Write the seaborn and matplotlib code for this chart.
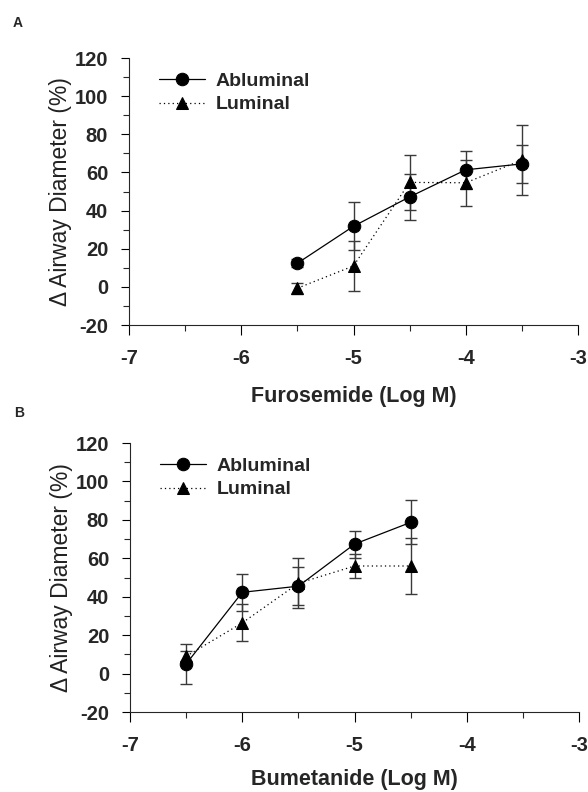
import numpy as np
import pandas as pd
import seaborn as sns
import matplotlib.pyplot as plt
from matplotlib.ticker import MultipleLocator

# panel A - furosemide
furo_x = [-5.5, -5.0, -4.5, -4.0, -3.5]
furo_ablum = [12.4, 31.8, 47.2, 61.4, 64.5]
furo_ablum_err = [2.0, 12.6, 12.0, 10.0, 10.0]
furo_lum = [-0.7, 11.0, 54.8, 54.6, 66.5]
furo_lum_err = [3.0, 13.0, 14.5, 12.0, 18.5]

# panel B - bumetanide
bume_x = [-6.5, -6.0, -5.5, -5.0, -4.5]
bume_ablum = [5.0, 42.3, 45.5, 67.4, 78.7]
bume_ablum_err = [10.5, 9.6, 10.0, 7.0, 11.5]
bume_lum = [9.0, 26.4, 47.0, 56.0, 56.0]
bume_lum_err = [3.0, 9.6, 13.0, 6.0, 14.8]

sns.set_style("ticks")
plt.rcParams['font.family'] = ['Liberation Sans', 'DejaVu Sans']
plt.rcParams['axes.unicode_minus'] = False

fig = plt.figure(figsize=(5.88, 7.92), dpi=100)
axA = fig.add_axes([0.2194, 0.5896, 0.7636, 0.3371])
axB = fig.add_axes([0.2211, 0.1010, 0.7636, 0.3396])


def draw_panel(ax, x, ab, ab_err, lu, lu_err, xlabel, xpad):
    df = pd.DataFrame({
        'logM': x + x,
        'change': ab + lu,
        'side': ['Abluminal'] * len(x) + ['Luminal'] * len(x),
    })
    ax.errorbar(x, ab, yerr=ab_err, fmt='none', ecolor='#3a3a3a',
                elinewidth=1.0, capsize=4, capthick=1.0, zorder=1)
    ax.errorbar(x, lu, yerr=lu_err, fmt='none', ecolor='#3a3a3a',
                elinewidth=1.0, capsize=4, capthick=1.0, zorder=1)
    sns.lineplot(data=df, x='logM', y='change', style='side',
                 markers={'Abluminal': 'o', 'Luminal': '^'},
                 dashes={'Abluminal': '', 'Luminal': (1, 2.5)},
                 color='black', markersize=9, markeredgecolor='black',
                 linewidth=0.9, ax=ax, zorder=3)
    ax.set_xlim(-7, -3)
    ax.set_ylim(-20, 120)
    ax.xaxis.set_major_locator(MultipleLocator(1))
    ax.xaxis.set_minor_locator(MultipleLocator(0.5))
    ax.yaxis.set_major_locator(MultipleLocator(20))
    ax.yaxis.set_minor_locator(MultipleLocator(10))
    ax.tick_params(axis='both', which='major', labelsize=14.5, width=0.8,
                   color='black')
    ax.tick_params(axis='x', which='major', length=7, pad=10)
    ax.tick_params(axis='x', which='minor', length=4, width=0.8)
    ax.tick_params(axis='y', which='major', length=6, pad=9)
    ax.tick_params(axis='y', which='minor', length=4, width=0.8)
    for lab in ax.get_xticklabels() + ax.get_yticklabels():
        lab.set_fontweight('bold')
    sns.despine(ax=ax)
    ax.spines['left'].set_linewidth(0.8)
    ax.spines['bottom'].set_linewidth(0.8)
    ax.set_xlabel(xlabel, fontsize=15.5, fontweight='bold', labelpad=xpad)
    ax.set_ylabel('\u0394 Airway Diameter (%)', fontsize=16.5, labelpad=2,
                  color='#222222')
    leg = ax.legend(loc='upper left', bbox_to_anchor=(0.04, 0.99),
                    frameon=False, handlelength=2.4, handletextpad=0.55,
                    labelspacing=0.3, borderaxespad=0.2,
                    prop={'size': 14, 'weight': 'bold'})
    for h in leg.legend_handles:
        h.set_color('black')


draw_panel(axA, furo_x, furo_ablum, furo_ablum_err, furo_lum, furo_lum_err,
           'Furosemide (Log M)', 13)
draw_panel(axB, bume_x, bume_ablum, bume_ablum_err, bume_lum, bume_lum_err,
           'Bumetanide (Log M)', 10)

fig.text(13 / 588, 1 - 23 / 792, 'A', fontsize=10, fontweight='bold',
         va='center', ha='left')
fig.text(14 / 588, 1 - 413 / 792, 'B', fontsize=10, fontweight='bold',
         va='center', ha='left')

fig.savefig('out.png', dpi=100)
